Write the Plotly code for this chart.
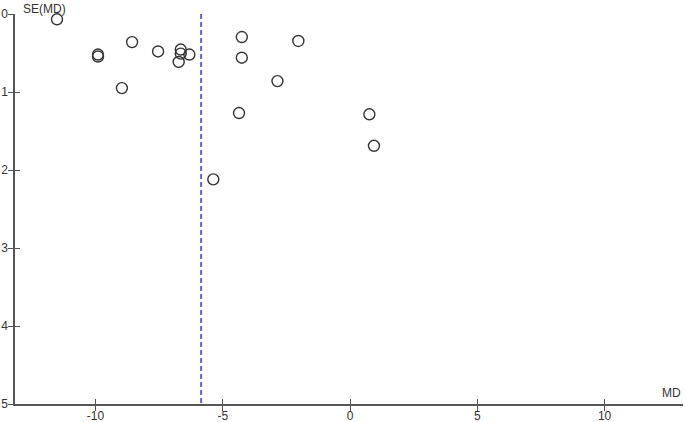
import plotly.graph_objects as go

# Study effect sizes (mean difference) and their standard errors
md = [-11.51, -9.90, -9.90, -8.56, -8.96, -7.54, -6.65, -6.65, -6.31, -6.73,
      -4.25, -4.25, -2.03, -2.85, -4.36, 0.76, 0.94, -5.37]
se = [0.068, 0.52, 0.545, 0.36, 0.95, 0.48, 0.456, 0.508, 0.52, 0.615,
      0.295, 0.56, 0.346, 0.86, 1.27, 1.286, 1.69, 2.12]
pooled_md = -5.85
se_range = [0, 5]

x_ticks = [-10, -5, 0, 5, 10]
x_tick_labels = ["-10", "-5", "0", "5", "10"]
y_ticks = [0, 1, 2, 3, 4, 5]
y_tick_labels = ["0", "1", "2", "3", "4", "5"]
x_range = [-13.16, 13.08]
y_range = [5, 0]

fig = go.Figure()
fig.add_trace(go.Scatter(
    x=[pooled_md, pooled_md], y=se_range, mode="lines",
    line=dict(color="#6262e0", width=2, dash="5px,3px"),
    hoverinfo="skip", showlegend=False))
fig.add_trace(go.Scatter(
    x=md, y=se, mode="markers",
    marker=dict(symbol="circle-open", size=11, color="#333333",
                line=dict(width=1.4, color="#333333")),
    cliponaxis=False, showlegend=False))
# invisible trace to activate overlay axes (inside half of the crossing ticks)
fig.add_trace(go.Scatter(x=[pooled_md], y=[0], xaxis="x2", yaxis="y2",
                         mode="markers", marker=dict(opacity=0),
                         hoverinfo="skip", showlegend=False))

font = dict(family="Liberation Sans, Arial, sans-serif", size=12, color="#333333")
fig.update_layout(
    width=685, height=422,
    margin=dict(l=15, r=2, t=14, b=18, pad=0),
    paper_bgcolor="white", plot_bgcolor="white",
    font=font,
    xaxis=dict(range=x_range, tickvals=x_ticks, ticktext=x_tick_labels,
               ticks="outside", ticklen=5, automargin=False,
               ticklabelstandoff=-5,
               tickcolor="#555555", showline=True, linecolor="#555555",
               linewidth=1.5, showgrid=False, zeroline=False,
               tickfont=font, anchor="y"),
    yaxis=dict(range=y_range, tickvals=y_ticks, ticktext=y_tick_labels,
               ticks="outside", ticklen=5, automargin=False,
               ticklabelstandoff=-2,
               tickcolor="#555555", showline=True, linecolor="#555555",
               linewidth=1.5, showgrid=False, zeroline=False,
               tickfont=font, anchor="x"),
    xaxis2=dict(range=x_range, tickvals=x_ticks, ticks="inside", ticklen=5,
                tickcolor="#555555", showticklabels=False, showline=False,
                automargin=False,
                showgrid=False, zeroline=False, overlaying="x", anchor="y2"),
    yaxis2=dict(range=y_range, tickvals=y_ticks, ticks="inside", ticklen=5,
                tickcolor="#555555", showticklabels=False, showline=False,
                automargin=False,
                showgrid=False, zeroline=False, overlaying="y", anchor="x2"),
    annotations=[
        dict(text="SE(MD)", xref="paper", yref="paper", x=0, y=1,
             xanchor="left", yanchor="bottom", xshift=6, yshift=-4,
             showarrow=False, font=font),
        dict(text="MD", xref="paper", yref="paper", x=1, y=0,
             xanchor="right", yanchor="bottom", yshift=2,
             showarrow=False, font=font),
    ],
)

fig.write_html("out.html", config={"displayModeBar": False},
               post_script="document.body.style.margin='0';"
                           "document.body.style.overflow='hidden';")
